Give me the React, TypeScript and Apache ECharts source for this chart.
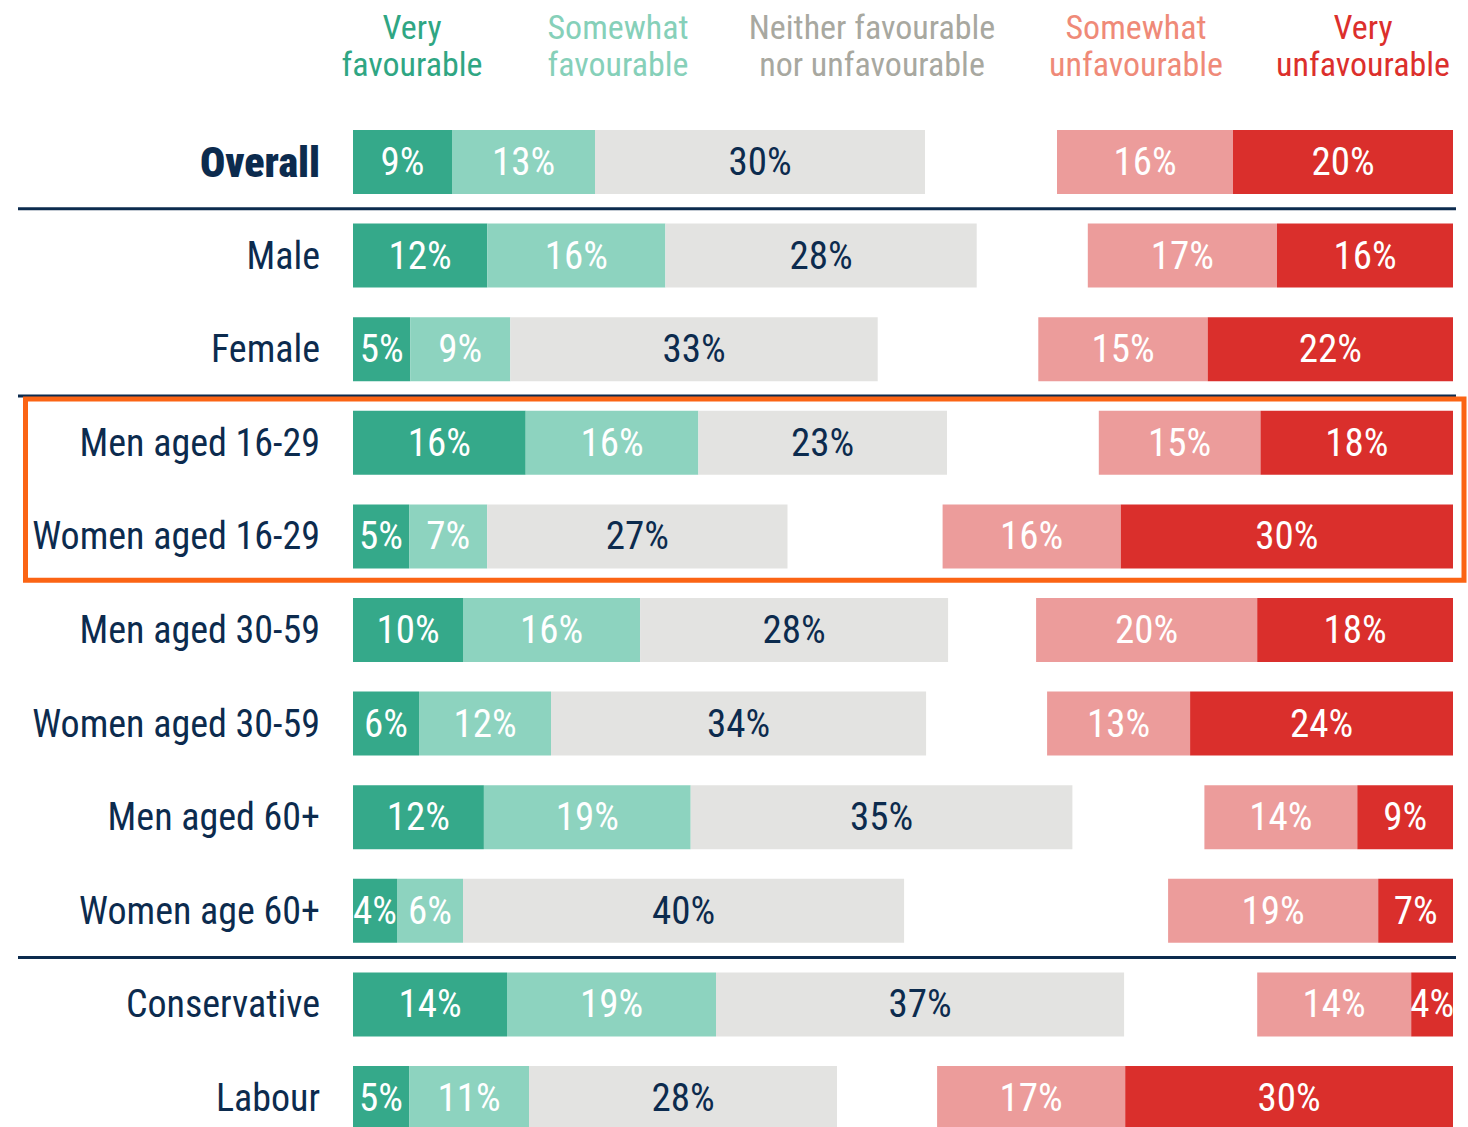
import React, { useEffect, useRef } from 'react';
import * as echarts from 'echarts';

const categories = [
  'Overall', 'Male', 'Female', 'Men aged 16-29', 'Women aged 16-29',
  'Men aged 30-59', 'Women aged 30-59', 'Men aged 60+', 'Women age 60+',
  'Conservative', 'Labour',
];
const veryFavourable = [9, 12.2, 5.2, 15.7, 5.1, 10.0, 6.0, 11.9, 4.0, 14.0, 5.1];
const somewhatFavourable = [13, 16.2, 9.1, 15.7, 7.1, 16.1, 12.0, 18.8, 6.0, 19.0, 10.9];
const neither = [30, 28.3, 33.4, 22.6, 27.3, 28.0, 34.1, 34.7, 40.1, 37.1, 28.0];
const somewhatUnfavourable = [16, 17.2, 15.4, 14.7, 16.2, 20.1, 13.0, 13.9, 19.1, 14.0, 17.1];
const veryUnfavourable = [20, 16.0, 22.3, 17.5, 30.2, 17.8, 23.9, 8.7, 6.8, 3.8, 29.8];
const columnTitles = [
  'Very\nfavourable',
  'Somewhat\nfavourable',
  'Neither favourable\nnor unfavourable',
  'Somewhat\nunfavourable',
  'Very\nunfavourable',
];
const separatorsAfter = [0, 2, 8];
const highlightedRows = [3, 4];

const FONT = "'Liberation Sans Narrow', 'Roboto Condensed', 'DejaVu Sans Condensed', 'Arial Narrow', Roboto, sans-serif";
const NAVY = '#0c2b4e';
const COLORS = ['#35a98a', '#8dd3bf', '#e3e3e1', '#ec9c9b', '#da2f2c'];
const TITLE_COLORS = ['#2fa683', '#86d0b9', '#a8a8a0', '#ef8a78', '#dc2f2c'];
const LABEL_COLORS = ['#ffffff', '#ffffff', NAVY, '#ffffff', '#ffffff'];
const TITLE_X = [412, 618, 872, 1136, 1363];

export default function App() {
  const ref = useRef<HTMLDivElement>(null);

  useEffect(() => {
    if (!ref.current) return;
    const chart = echarts.init(ref.current, undefined, { renderer: 'svg' });

    const gap = categories.map((_, i) =>
      100 - veryFavourable[i] - somewhatFavourable[i] - neither[i] - somewhatUnfavourable[i] - veryUnfavourable[i]);

    const fmt = (p: any) => Math.round(p.value) + '%';
    const mk = (name: string, data: number[], k: number) => ({
      type: 'bar',
      name,
      stack: 'total',
      data,
      barWidth: 64,
      itemStyle: { color: COLORS[k] },
      label: {
        show: true,
        position: 'inside',
        color: LABEL_COLORS[k],
        fontSize: 39,
        fontFamily: FONT,
        formatter: fmt,
      },
      emphasis: { disabled: true },
      silent: true,
    });

    chart.setOption({
      animation: false,
      backgroundColor: '#ffffff',
      grid: { left: 353, right: 15, top: 115.2, bottom: 15.2 },
      xAxis: { type: 'value', min: 0, max: 100, show: false },
      yAxis: {
        type: 'category',
        data: categories,
        inverse: true,
        axisLine: { show: false },
        axisTick: { show: false },
        splitLine: { show: false },
        axisLabel: {
          fontSize: 38,
          color: NAVY,
          margin: 33,
          fontFamily: FONT,
          formatter: (v: string, i: number) => (i === 0 ? '{b|' + v + '}' : v),
          rich: { b: { fontSize: 42, fontWeight: 900, color: NAVY, fontFamily: FONT } },
        },
      },
      series: [
        mk(columnTitles[0], veryFavourable, 0),
        mk(columnTitles[1], somewhatFavourable, 1),
        mk(columnTitles[2], neither, 2),
        {
          type: 'bar', name: 'gap', stack: 'total', data: gap, barWidth: 64,
          itemStyle: { color: 'rgba(0,0,0,0)' }, label: { show: false }, silent: true,
          emphasis: { disabled: true },
        },
        mk(columnTitles[3], somewhatUnfavourable, 3),
        mk(columnTitles[4], veryUnfavourable, 4),
      ],
    });

    const yc = (i: number) => chart.convertToPixel({ yAxisIndex: 0 }, i) as number;
    const boundary = (i: number) => (yc(i) + yc(i + 1)) / 2;

    const graphic: any[] = [];
    columnTitles.forEach((t, k) => {
      graphic.push({
        type: 'text',
        x: TITLE_X[k],
        y: 8,
        style: {
          text: t,
          fill: TITLE_COLORS[k],
          fontSize: 34,
          fontFamily: FONT,
          align: 'center',
          verticalAlign: 'top',
          lineHeight: 37,
        },
      });
    });
    separatorsAfter.forEach((i) => {
      const y = boundary(i);
      graphic.push({
        type: 'line',
        shape: { x1: 18, y1: y, x2: 1456, y2: y },
        style: { stroke: NAVY, lineWidth: 3 },
      });
    });
    const top = boundary(highlightedRows[0] - 1) + 3;
    const bottom = boundary(highlightedRows[highlightedRows.length - 1]) - 3;
    graphic.push({
      type: 'rect',
      shape: { x: 25.5, y: top, width: 1438.5, height: bottom - top },
      style: { fill: 'none', stroke: '#fb6414', lineWidth: 5 },
    });
    chart.setOption({ graphic });

    return () => chart.dispose();
  }, []);

  return (
    <div
      ref={ref}
      style={{ position: 'fixed', left: 0, top: 0, width: 1468, height: 1160, background: '#fff' }}
    />
  );
}
